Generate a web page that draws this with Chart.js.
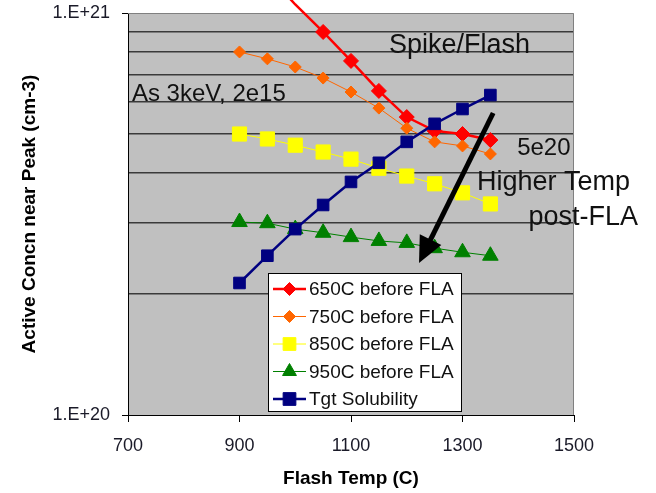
<!DOCTYPE html>
<html>
<head>
<meta charset="utf-8">
<script src="https://cdn.jsdelivr.net/npm/chart.js@4.4.1/dist/chart.umd.min.js"></script>
<style>
  html, body { margin: 0; padding: 0; background: #fff; }
  #wrap { width: 656px; height: 493px; }
</style>
</head>
<body>
<div id="wrap"><canvas id="chart" width="656" height="493"></canvas></div>
<script>
// flash temperature (C) for every anneal series
const flashTemps = [900, 950, 1000, 1050, 1100, 1150, 1200, 1250, 1300, 1350];

// active concentration near peak (cm-3); first 650C points sit above the axis
const pre650 = [1.45e21, 1.25e21, 1.05e21, 8.97e20, 7.60e20, 6.40e20, 5.51e20, 5.09e20, 5.00e20, 4.83e20];
const pre750 = [8.00e20, 7.69e20, 7.34e20, 6.89e20, 6.36e20, 5.80e20, 5.17e20, 4.78e20, 4.67e20, 4.46e20];
const pre850 = [5.00e20, 4.86e20, 4.69e20, 4.51e20, 4.33e20, 4.11e20, 3.93e20, 3.76e20, 3.57e20, 3.35e20];
const pre950 = [3.02e20, 3.00e20, 2.90e20, 2.84e20, 2.77e20, 2.71e20, 2.68e20, 2.60e20, 2.54e20, 2.49e20];
const tgtSolubility = [2.13e20, 2.49e20, 2.90e20, 3.33e20, 3.80e20, 4.24e20, 4.78e20, 5.30e20, 5.77e20, 6.25e20];

const seriesNames = ['650C before FLA', '750C before FLA', '850C before FLA', '950C before FLA', 'Tgt Solubility'];
const xTicks = [700, 900, 1100, 1300, 1500];
const yGridTicks = [1e20, 2e20, 3e20, 4e20, 5e20, 6e20, 7e20, 8e20, 9e20, 1e21];
const yLabelTicks = [1e20, 1e21];

const X_MIN = 700, X_MAX = 1500;
const Y_MIN = 1e20, Y_MAX = 1e21;

const FONT = "'Liberation Sans', Arial, sans-serif";

const toPoints = (vals) => vals.map((v, i) => ({ x: flashTemps[i], y: v }));
// hide markers that fall past the top of the axis, the line still runs there
const radiusInRange = (r) => (ctx) => (ctx.raw && ctx.raw.y > Y_MAX ? 0 : r);

const seriesStyle = [
    { color: '#FF0000', width: 2.5, marker: 'rectRot', radius: 7.5, legendRadius: 6.5, order: 5 },
    { color: '#FF6600', width: 1,   marker: 'rectRot', radius: 6,   legendRadius: 6,   order: 4 },
    { color: '#FFFF00', width: 1,   marker: 'rect',    radius: 10,  legendRadius: 9,   order: 3 },
    { color: '#008000', width: 1,   marker: 'triangle', radius: 9,  legendRadius: 8,   order: 2 },
    { color: '#000080', width: 2.5, marker: 'rect',    radius: 8.2, legendRadius: 9,   order: 1 }
];

const seriesValues = [pre650, pre750, pre850, pre950, tgtSolubility];

const datasets = seriesValues.map((vals, i) => {
    const s = seriesStyle[i];
    return {
        label: seriesNames[i],
        data: toPoints(vals),
        borderColor: s.color,
        backgroundColor: s.color,
        borderWidth: s.width,
        pointStyle: s.marker,
        pointRadius: radiusInRange(s.radius),
        pointBorderWidth: 1,
        pointBorderColor: s.color,
        pointBackgroundColor: s.color,
        tension: 0,
        order: s.order,
        legendRadius: s.legendRadius,
        clip: { left: 0, top: false, right: 0, bottom: 0 }
    };
});

// text notes placed in data coordinates
const notes = [
    { text: 'Spike/Flash',   x: 1168, y: 7.95e20, size: 27, align: 'left' },
    { text: 'As 3keV, 2e15', x: 707,  y: 6.04e20, size: 24, align: 'left' },
    { text: '5e20',          x: 1398, y: 4.44e20, size: 24, align: 'left' },
    { text: 'Higher Temp',   x: 1326, y: 3.63e20, size: 27, align: 'left' },
    { text: 'post-FLA',      x: 1615, y: 2.97e20, size: 27, align: 'right' }
];
const arrow = { from: { x: 1355, y: 5.64e20 }, to: { x: 1222, y: 2.39e20 } };

const plotBackground = {
    id: 'plotBackground',
    beforeDraw(chart) {
        const { ctx, chartArea: a } = chart;
        ctx.save();
        ctx.fillStyle = '#C0C0C0';
        ctx.fillRect(a.left, a.top, a.right - a.left, a.bottom - a.top);
        ctx.restore();
    },
    beforeDatasetsDraw(chart) {
        const { ctx, chartArea: a } = chart;
        ctx.save();
        ctx.strokeStyle = '#808080';
        ctx.lineWidth = 1;
        ctx.beginPath();
        ctx.moveTo(a.left, Math.round(a.top) + 0.5);
        ctx.lineTo(Math.round(a.right) - 0.5, Math.round(a.top) + 0.5);
        ctx.lineTo(Math.round(a.right) - 0.5, a.bottom);
        ctx.stroke();

        // notes
        const xs = chart.scales.x, ys = chart.scales.y;
        ctx.fillStyle = '#111';
        ctx.textBaseline = 'alphabetic';
        notes.forEach(n => {
            ctx.font = n.size + 'px ' + FONT;
            ctx.textAlign = n.align;
            ctx.fillText(n.text, xs.getPixelForValue(n.x), ys.getPixelForValue(n.y));
        });
        ctx.restore();
    }
};

const arrowAndLegend = {
    id: 'arrowAndLegend',
    afterDatasetsDraw(chart) {
        const { ctx, chartArea: a } = chart;
        const xs = chart.scales.x, ys = chart.scales.y;

        // arrow
        const x1 = xs.getPixelForValue(arrow.from.x), y1 = ys.getPixelForValue(arrow.from.y);
        const x2 = xs.getPixelForValue(arrow.to.x), y2 = ys.getPixelForValue(arrow.to.y);
        const len = Math.hypot(x2 - x1, y2 - y1);
        const ux = (x2 - x1) / len, uy = (y2 - y1) / len;
        const headLen = 26, headHalf = 12;
        const bx = x2 - ux * headLen, by = y2 - uy * headLen;
        ctx.save();
        ctx.strokeStyle = '#000';
        ctx.fillStyle = '#000';
        ctx.lineWidth = 5;
        ctx.beginPath();
        ctx.moveTo(x1, y1);
        ctx.lineTo(bx + ux * 2, by + uy * 2);
        ctx.stroke();
        ctx.beginPath();
        ctx.moveTo(x2, y2);
        ctx.lineTo(bx - uy * headHalf, by + ux * headHalf);
        ctx.lineTo(bx + uy * headHalf, by - ux * headHalf);
        ctx.closePath();
        ctx.fill();
        ctx.restore();

        // legend box inside the plot
        const lx = a.left + 140, ly = a.top + 260, lw = 194, lh = 139;
        ctx.save();
        ctx.fillStyle = '#fff';
        ctx.fillRect(lx, ly, lw, lh);
        ctx.strokeStyle = '#000';
        ctx.lineWidth = 1;
        ctx.strokeRect(lx + 0.5, ly + 0.5, lw - 1, lh - 1);
        chart.data.datasets.forEach((ds, i) => {
            const cy = ly + 16 + i * 27.5;
            ctx.strokeStyle = ds.borderColor;
            ctx.lineWidth = ds.borderWidth;
            ctx.beginPath();
            ctx.moveTo(lx + 5, cy);
            ctx.lineTo(lx + 38, cy);
            ctx.stroke();
            ctx.fillStyle = ds.pointBackgroundColor;
            ctx.strokeStyle = ds.pointBorderColor;
            ctx.lineWidth = 1;
            Chart.helpers.drawPoint(ctx, {
                pointStyle: ds.pointStyle,
                radius: ds.legendRadius,
                rotation: 0,
                borderWidth: 1
            }, lx + 21.5, cy);
            ctx.fillStyle = '#111';
            ctx.font = '19px ' + FONT;
            ctx.textAlign = 'left';
            ctx.textBaseline = 'middle';
            ctx.fillText(ds.label, lx + 41, cy + 1);
        });
        ctx.restore();
    }
};

new Chart(document.getElementById('chart'), {
    type: 'line',
    data: { datasets },
    options: {
        responsive: false,
        animation: false,
        events: [],
        layout: { padding: { left: 0, top: 13, right: 82, bottom: 0 } },
        plugins: {
            legend: { display: false },
            tooltip: { enabled: false }
        },
        scales: {
            x: {
                type: 'linear',
                min: X_MIN,
                max: X_MAX,
                afterBuildTicks: (scale) => { scale.ticks = xTicks.map(v => ({ value: v })); },
                afterFit: (scale) => {
                    scale.height = 78;
                    scale.paddingLeft = 0;
                    scale.paddingRight = 0;
                },
                border: { display: true, color: '#000', width: 1 },
                grid: { drawOnChartArea: false, drawTicks: true, tickLength: 7, tickColor: '#000' },
                ticks: {
                    color: '#1a1a28',
                    font: { family: FONT, size: 18 },
                    padding: 13,
                    maxRotation: 0,
                    autoSkip: false,
                    callback: (v) => String(v)
                },
                title: {
                    display: true,
                    text: 'Flash Temp (C)',
                    color: '#000',
                    font: { family: FONT, size: 19, weight: 'bold' },
                    padding: { top: 0, bottom: 3 }
                }
            },
            y: {
                type: 'logarithmic',
                min: Y_MIN,
                max: Y_MAX,
                afterBuildTicks: (scale) => { scale.ticks = yGridTicks.map(v => ({ value: v })); },
                afterFit: (scale) => {
                    scale.width = 128;
                    scale.paddingTop = 0;
                    scale.paddingBottom = 0;
                },
                border: { display: true, color: '#000', width: 1 },
                grid: {
                    drawTicks: true,
                    tickLength: 6,
                    lineWidth: (c) => (yLabelTicks.includes(c.tick && c.tick.value) ? 1 : 1.6),
                    color: (c) => (yLabelTicks.includes(c.tick && c.tick.value) ? 'rgba(0,0,0,0)' : '#3a3a3a'),
                    tickColor: (c) => (yLabelTicks.includes(c.tick && c.tick.value) ? '#000' : 'rgba(0,0,0,0)'),
                    tickWidth: 1
                },
                ticks: {
                    color: '#1a1a28',
                    font: { family: FONT, size: 18 },
                    padding: 12,
                    autoSkip: false,
                    callback: (v) => (yLabelTicks.includes(v) ? '1.E+' + Math.round(Math.log10(v)) : '')
                },
                title: {
                    display: true,
                    text: 'Active Concn near Peak (cm-3)',
                    color: '#000',
                    font: { family: FONT, size: 19, weight: 'bold' },
                    padding: { top: 18, bottom: 0 }
                }
            }
        }
    },
    plugins: [plotBackground, arrowAndLegend]
});
</script>
</body>
</html>
